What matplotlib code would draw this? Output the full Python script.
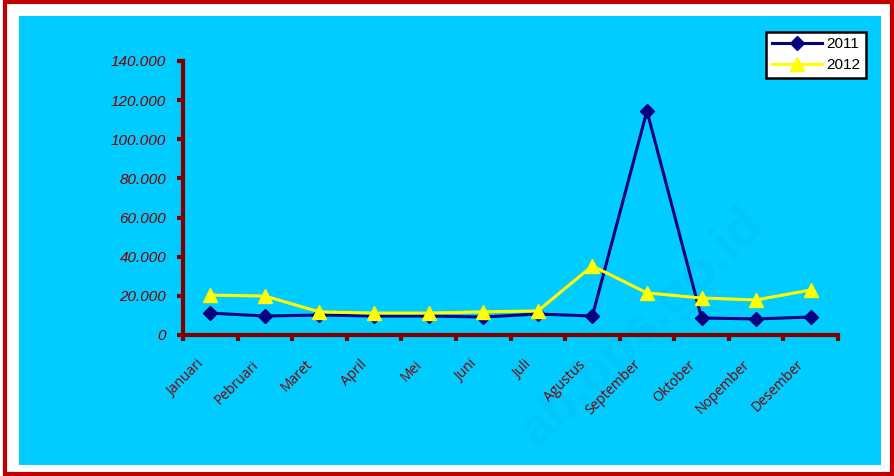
import matplotlib
matplotlib.use("Agg")
import matplotlib.pyplot as plt
from matplotlib.patches import Rectangle
from matplotlib.transforms import ScaledTranslation
from matplotlib.ticker import FixedLocator, FuncFormatter

# Data
months = ["Januari", "Pebruari", "Maret", "April", "Mei", "Juni", "Juli",
          "Agustus", "September", "Oktober", "Nopember", "Desember"]
val_2011 = [11200, 9700, 10200, 9700, 9700, 9200, 10700, 9700, 114500, 8700, 8200, 9200]
val_2012 = [20400, 19900, 11800, 11200, 11200, 11800, 12300, 35300, 21500, 18900, 17900, 23000]
y_ticks = [0, 20000, 40000, 60000, 80000, 100000, 120000, 140000]

W, H = 894, 476
fig = plt.figure(figsize=(W / 100, H / 100), dpi=100)
fig.patch.set_facecolor("white")

# outer red frame and cyan plot area
fig.patches.append(Rectangle((5 / W, 2 / H), 887 / W, 472 / H, transform=fig.transFigure,
                             facecolor="white", edgecolor="#C00000", linewidth=3, zorder=-2))
fig.patches.append(Rectangle((19 / W, 1 - 465 / H), 862 / W, 449 / H, transform=fig.transFigure,
                             facecolor="#00CCFF", edgecolor="none", zorder=-1))

# faint watermark
fig.text(642 / W, 1 - 328 / H, "ab.bps.go.id", rotation=44, fontsize=39,
         fontweight="bold", color="#0A9FD0", alpha=0.13, ha="center", va="center",
         family="Liberation Sans", zorder=1)

ax = fig.add_axes([183 / W, 1 - 335 / H, 655 / W, 274 / H])
ax.set_zorder(2)
ax.set_facecolor("none")

x = range(len(months))
ax.plot(x, val_2011, color="#000080", lw=2.2, marker="D", ms=6.8,
        markerfacecolor="#000080", markeredgecolor="#000080", label="2011", zorder=3)
ax.plot(x, val_2012, color="#FFFF00", lw=2.2, marker="^", ms=10.5,
        markerfacecolor="#FFFF00", markeredgecolor="#FFFF00", label="2012", zorder=4)

ax.set_xlim(-0.5, len(months) - 0.5)
ax.set_ylim(0, 140000)

for side in ["top", "right"]:
    ax.spines[side].set_visible(False)
for side in ["left", "bottom"]:
    ax.spines[side].set_color("#800000")
    ax.spines[side].set_linewidth(3)

ax.set_yticks(y_ticks)
ax.yaxis.set_major_formatter(FuncFormatter(lambda v, p: "0" if v == 0 else f"{int(v):,}".replace(",", ".")))
ax.tick_params(axis="y", length=4, width=3, color="#800000", pad=8,
               labelcolor="#800000", labelsize=11)
for lab in ax.get_yticklabels():
    lab.set_fontstyle("italic")
    lab.set_family("Liberation Sans")

ax.set_xticks(list(x))
ax.xaxis.set_minor_locator(FixedLocator([i - 0.5 for i in range(len(months) + 1)]))
ax.tick_params(axis="x", which="minor", length=4, width=3, color="#800000")
ax.tick_params(axis="x", which="major", length=0, pad=16, labelcolor="#800000", labelsize=10)
ax.set_xticklabels(months, rotation=45, ha="right", va="top", rotation_mode="anchor",
                   family="Open Sans")
shift = ScaledTranslation(-14 / 100, 0, fig.dpi_scale_trans)
for lab in ax.get_xticklabels():
    lab.set_transform(lab.get_transform() + shift)

leg = ax.legend(loc="upper right", bbox_to_anchor=(866 / W, 1 - 32 / H),
                bbox_transform=fig.transFigure, fancybox=False, framealpha=1,
                edgecolor="black", prop={"family": "Liberation Sans", "size": 11},
                handlelength=3.3, handletextpad=0.3, borderpad=0.35, labelspacing=0.45,
                borderaxespad=0)
leg.get_frame().set_linewidth(1.8)

fig.savefig("out.png", dpi=100)
